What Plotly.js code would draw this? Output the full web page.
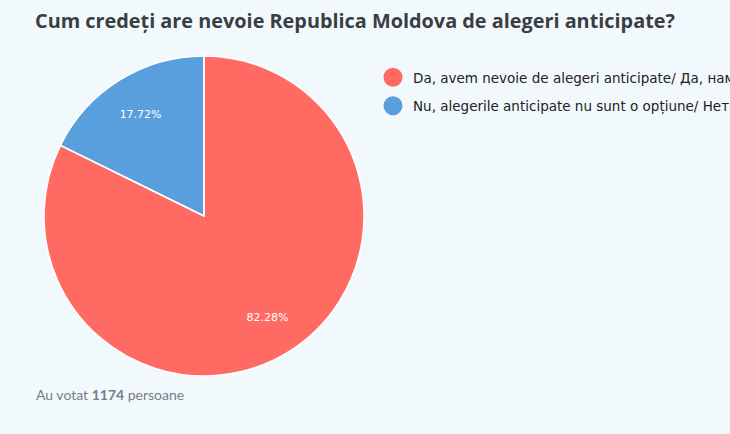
<!DOCTYPE html>
<html>
<head>
<meta charset="utf-8">
<script src="https://cdn.plot.ly/plotly-3.0.1.min.js"></script>
<style>html,body{margin:0;padding:0;background:#F2F9FD;}#chart{width:730px;height:434px;}</style>
</head>
<body>
<div id="chart"></div>
<script>
const titleText = "Cum credeți are nevoie Republica Moldova de alegeri anticipate?";
const categories = [
  "Da, avem nevoie de alegeri anticipate/ Да, нам нужны досрочные выборы",
  "Nu, alegerile anticipate nu sunt o opțiune/ Нет, досрочные выборы не вариант"
];
const values = [82.28, 17.72];
const colors = ["#FF6B63", "#5A9FDD"];
const totalVotes = 1174;

const pieDomain = {x: [44/730, 364/730], y: [1 - 376/434, 1 - 56/434]};
const common = {
  type: "pie",
  labels: categories,
  values: values,
  sort: false,
  direction: "clockwise",
  rotation: 0,
  hoverinfo: "none",
  showlegend: false,
  domain: pieDomain
};

// full filled pie
const pieBase = Object.assign({}, common, {
  marker: {colors: colors, line: {width: 0}},
  textinfo: "none"
});
// ring with the same slices: carries the percentage labels out toward the rim
const pieRing = Object.assign({}, common, {
  hole: 0.5,
  marker: {colors: colors, line: {width: 0}},
  texttemplate: "%{percent:.2%}",
  textposition: "inside",
  insidetextorientation: "horizontal",
  insidetextfont: {color: "#FFFFFF", size: 11, family: "DejaVu Sans, Verdana, sans-serif"}
});
// transparent pie on top drawing the white slice borders
const pieLines = Object.assign({}, common, {
  marker: {colors: colors.map(() => "rgba(0,0,0,0)"), line: {color: "#FFFFFF", width: 1.5}},
  textinfo: "none"
});

const legendTraces = categories.map((c, i) => ({
  type: "scatter",
  mode: "markers",
  x: [null], y: [null],
  name: c,
  legendgroup: "g" + i,
  marker: {symbol: "circle", size: 16, color: colors[i], line: {color: colors[i], width: 3}},
  showlegend: true,
  hoverinfo: "none"
}));

const layout = {
  width: 730, height: 434,
  margin: {l: 0, r: 0, t: 0, b: 0, autoexpand: false},
  paper_bgcolor: "#F2F9FD",
  plot_bgcolor: "#F2F9FD",
  title: {
    text: "<b>" + titleText + "</b>",
    font: {family: "Open Sans, sans-serif", size: 19.85, color: "#3A3D42"},
    x: 35/730, xanchor: "left", xref: "paper",
    y: 1 - 21/434, yanchor: "middle", yref: "container"
  },
  xaxis: {visible: false, domain: [0.9, 1]},
  yaxis: {visible: false, domain: [0.9, 1]},
  legend: {
    x: 373/730, xanchor: "left", y: 1 - 62/434, yanchor: "top",
    bgcolor: "rgba(0,0,0,0)",
    font: {family: "DejaVu Sans, Verdana, sans-serif", size: 13.5, color: "#222222"},
    itemsizing: "trace",
    tracegroupgap: 8
  },
  annotations: [{
    text: "Au votat <b>" + totalVotes + "</b> persoane",
    x: 34/730, xref: "paper", xanchor: "left",
    y: 1 - 394/434, yref: "paper", yanchor: "middle",
    showarrow: false,
    font: {family: "Lato, Open Sans, sans-serif", size: 14, color: "#767D86"}
  }]
};

Plotly.newPlot("chart", [pieBase, pieRing, pieLines].concat(legendTraces), layout, {staticPlot: true, displayModeBar: false});
</script>
</body>
</html>
